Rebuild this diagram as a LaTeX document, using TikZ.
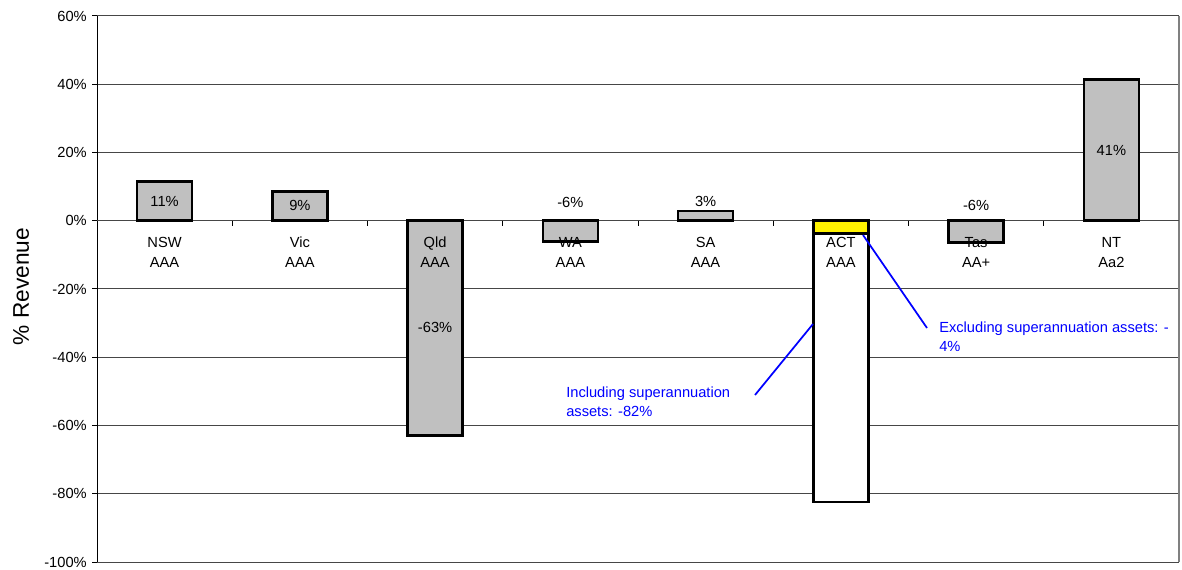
\documentclass[tikz,border=0pt]{standalone}
\usepackage{fontspec}
\setmainfont{Liberation Sans}
\usepackage{tikz}

\definecolor{barGrey}{RGB}{192,192,192}
\definecolor{noteBlue}{RGB}{0,0,255}
\definecolor{gridGrey}{RGB}{70,70,70}
\definecolor{frameGrey}{RGB}{128,128,128}

\tikzset{
  statebar/.style={draw=black, line width=2pt, fill=barGrey},
  gridline/.style={draw=gridGrey, line width=0.75pt},
  ticklab/.style={anchor=east, inner sep=0pt, font=\fontsize{11}{13}\selectfont},
  catlab/.style={anchor=north, inner sep=0pt, align=center, font=\fontsize{11}{15}\selectfont},
  vallab/.style={inner sep=0pt, font=\fontsize{11}{13}\selectfont},
  notelab/.style={anchor=west, inner sep=0pt, align=left, text=noteBlue, font=\fontsize{11}{14.6}\selectfont},
  noteline/.style={draw=noteBlue, line width=1.3pt},
}

\begin{document}
\begin{tikzpicture}[x=0.75pt,y=0.75pt,yscale=-1,xscale=1]
        \useasboundingbox (0,0) rectangle (1182,570);
        %Straight Lines: grid
        \draw [gridline]   (97,16) -- (1179,16) ;
        \draw [gridline]   (97,84.25) -- (1179,84.25) ;
        \draw [gridline]   (97,152.5) -- (1179,152.5) ;
        \draw [gridline]   (97,289) -- (1179,289) ;
        \draw [gridline]   (97,357.25) -- (1179,357.25) ;
        \draw [gridline]   (97,425.5) -- (1179,425.5) ;
        \draw [gridline]   (97,493.75) -- (1179,493.75) ;
        \draw [gridline]   (97,562) -- (1179,562) ;
        %Straight Lines: frame on the right
        \draw [draw=frameGrey, line width=1.5pt]   (1179,16) -- (1179,562) ;
        %Straight Lines: value axis and its ticks
        \draw [line width=0.75pt]   (97,16) -- (97,562) ;
        \draw [line width=0.75pt]   (92,16) -- (97,16) (92,84.25) -- (97,84.25) (92,152.5) -- (97,152.5) (92,220.75) -- (97,220.75) (92,289) -- (97,289) (92,357.25) -- (97,357.25) (92,425.5) -- (97,425.5) (92,493.75) -- (97,493.75) (92,562) -- (97,562) ;
        %Straight Lines: category axis and its ticks
        \draw [gridline]   (97,220.75) -- (1179,220.75) ;
        \draw [line width=0.75pt]   (232.25,220.75) -- (232.25,226) (367.5,220.75) -- (367.5,226) (502.75,220.75) -- (502.75,226) (638,220.75) -- (638,226) (773.25,220.75) -- (773.25,226) (908.5,220.75) -- (908.5,226) (1043.75,220.75) -- (1043.75,226) ;

        % Text Node
        \draw (87,16) node [ticklab] (t60) {60\%};
        % Text Node
        \draw (87,84.25) node [ticklab] (t40) {40\%};
        % Text Node
        \draw (87,152.5) node [ticklab] (t20) {20\%};
        % Text Node
        \draw (87,220.75) node [ticklab] (t0) {0\%};
        % Text Node
        \draw (87,289) node [ticklab] (tm20) {-20\%};
        % Text Node
        \draw (87,357.25) node [ticklab] (tm40) {-40\%};
        % Text Node
        \draw (87,425.5) node [ticklab] (tm60) {-60\%};
        % Text Node
        \draw (87,493.75) node [ticklab] (tm80) {-80\%};
        % Text Node
        \draw (87,562) node [ticklab] (tm100) {-100\%};
        % Text Node
        \draw (21,286.5) node [rotate=90, inner sep=0pt, font=\fontsize{17}{19}\selectfont] (ytitle) {\% Revenue};

        %Shape: Rectangle (bars)
        \draw [statebar]   (137.1,181.7) rectangle (192.1,220.75) ;
        \draw [statebar]   (272.4,191.7) rectangle (327.4,220.75) ;
        \draw [statebar]   (407.6,220.75) rectangle (462.6,435.7) ;
        \draw [statebar]   (542.9,220.75) rectangle (597.9,241.7) ;
        \draw [statebar]   (678.1,211) rectangle (733.1,220.75) ;
        \draw [statebar, fill=white]   (813.4,220.75) rectangle (868.4,502) ;
        \draw [statebar, fill=yellow]   (813.4,220.75) rectangle (868.4,233.3) ;
        \draw [statebar]   (948.6,220.75) rectangle (1003.6,242.7) ;
        \draw [statebar]   (1083.9,79.3) rectangle (1138.9,220.75) ;

        % Text Node
        \draw (164.6,237) node [catlab] (nsw) {NSW\\AAA};
        % Text Node
        \draw (299.9,237) node [catlab] (vic) {Vic\\AAA};
        % Text Node
        \draw (435.1,237) node [catlab] (qld) {Qld\\AAA};
        % Text Node
        \draw (570.4,237) node [catlab] (wa) {WA\\AAA};
        % Text Node
        \draw (705.6,237) node [catlab] (sa) {SA\\AAA};
        % Text Node
        \draw (840.9,237) node [catlab] (act) {ACT\\AAA};
        % Text Node
        \draw (976.1,237) node [catlab] (tas) {Tas\\AA+};
        % Text Node
        \draw (1111.4,237) node [catlab] (nt) {NT\\Aa2};

        % Text Node
        \draw (164.6,201.5) node [vallab] (vnsw) {11\%};
        % Text Node
        \draw (299.9,205.5) node [vallab] (vvic) {9\%};
        % Text Node
        \draw (435.1,327) node [vallab] (vqld) {-63\%};
        % Text Node
        \draw (570.4,202) node [vallab] (vwa) {-6\%};
        % Text Node
        \draw (705.6,201.7) node [vallab] (vsa) {3\%};
        % Text Node
        \draw (976.1,205.7) node [vallab] (vtas) {-6\%};
        % Text Node
        \draw (1111.4,150) node [vallab] (vnt) {41\%};

        % Text Node
        \draw (939,336.5) node [notelab] (excl) {Excluding superannuation assets: -\\4\%};
        % Text Node
        \draw (566,402) node [notelab] (incl) {Including superannuation\\assets: -82\%};
        \coordinate (exclTip) at (863,235);
        \coordinate (exclEnd) at (927,328);
        \coordinate (inclTip) at (813,324);
        \coordinate (inclEnd) at (755,395);
        %Straight Lines
        \draw [noteline]   (exclEnd) -- (exclTip) ;
        %Straight Lines
        \draw [noteline]   (inclEnd) -- (inclTip) ;
\end{tikzpicture}
\end{document}
